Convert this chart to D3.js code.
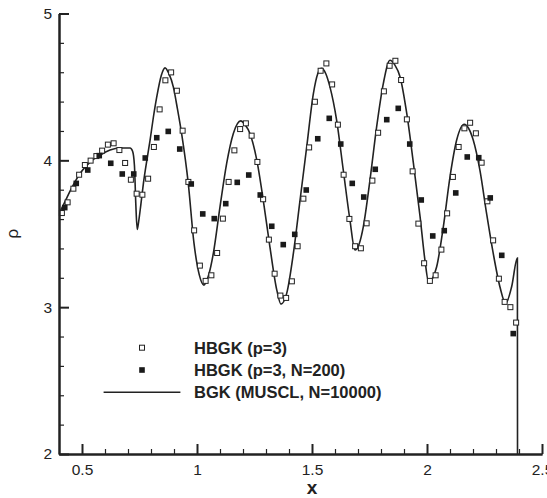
<!DOCTYPE html>
<html>
<head>
<meta charset="utf-8">
<script src="https://cdn.jsdelivr.net/npm/d3@7"></script>
<style>
  body { margin: 0; background: #fff; }
  svg text { font-family: "Liberation Sans", Arial, sans-serif; fill: #222; }
</style>
</head>
<body>
<svg id="chart"></svg>
<script>
// open squares: HBGK (p=3)
var hbgkP3 = [
  [0.4125,3.641],[0.4375,3.714],[0.4625,3.807],[0.4875,3.902],[0.5125,3.968],[0.5375,3.998],
  [0.5625,4.029],[0.5875,4.066],[0.6125,4.107],[0.6375,4.116],[0.6625,4.070],[0.6875,3.982],
  [0.7125,3.868],[0.7375,3.773],[0.7625,3.766],[0.7875,3.875],[0.8125,4.091],[0.8375,4.347],
  [0.8625,4.545],[0.8875,4.599],[0.9125,4.474],[0.9375,4.202],[0.9625,3.853],[0.9875,3.523],
  [1.0125,3.283],[1.0375,3.179],[1.0625,3.217],[1.0875,3.369],[1.1125,3.603],[1.1375,3.853],
  [1.1625,4.068],[1.1875,4.213],[1.2125,4.252],[1.2375,4.168],[1.2625,3.989],[1.2875,3.735],
  [1.3125,3.460],[1.3375,3.228],[1.3625,3.079],[1.3875,3.063],[1.4125,3.176],[1.4375,3.415],
  [1.4625,3.739],[1.4875,4.088],[1.5125,4.399],[1.5375,4.610],[1.5625,4.660],[1.5875,4.517],
  [1.6125,4.243],[1.6375,3.902],[1.6625,3.601],[1.6875,3.415],[1.7125,3.401],[1.7375,3.571],
  [1.7625,3.862],[1.7875,4.188],[1.8125,4.470],[1.8375,4.644],[1.8625,4.678],[1.8875,4.547],
  [1.9125,4.279],[1.9375,3.925],[1.9625,3.569],[1.9875,3.299],[2.0125,3.179],[2.0375,3.217],
  [2.0625,3.392],[2.0875,3.639],[2.1125,3.887],[2.1375,4.091],[2.1625,4.218],[2.1875,4.256],
  [2.2125,4.184],[2.2375,3.984],[2.2625,3.721],[2.2875,3.455],[2.3125,3.194],[2.3375,3.036],
  [2.3625,3.000],[2.3875,2.895]
];

// filled squares: HBGK (p=3, N=200)
var hbgkN200 = [
  [0.425,3.678],[0.475,3.843],[0.525,3.934],[0.575,4.032],[0.625,3.980],[0.675,3.907],
  [0.725,3.907],[0.775,4.016],[0.825,4.154],[0.875,4.197],[0.925,4.077],[0.975,3.839],
  [1.025,3.635],[1.075,3.603],[1.125,3.705],[1.175,3.850],[1.225,3.900],[1.275,3.764],
  [1.325,3.551],[1.375,3.426],[1.425,3.496],[1.475,3.798],[1.525,4.147],[1.575,4.286],
  [1.625,4.111],[1.675,3.843],[1.725,3.750],[1.775,3.939],[1.825,4.277],[1.875,4.354],
  [1.925,4.111],[1.975,3.730],[2.025,3.485],[2.075,3.521],[2.125,3.778],[2.175,4.023],
  [2.225,4.018],[2.275,3.744],[2.325,3.353],[2.375,2.820]
];

// line: BGK (MUSCL, N=10000)
var bgkLine = [
  [0.401,3.639],[0.425,3.715],[0.448,3.790],[0.470,3.855],[0.491,3.910],[0.535,3.988],
  [0.578,4.035],[0.622,4.070],[0.665,4.084],[0.709,4.084],[0.720,4.062],[0.728,3.965],
  [0.734,3.700],[0.740,3.530],[0.746,3.580],[0.756,3.700],[0.767,3.843],[0.784,4.020],
  [0.796,4.138],[0.810,4.290],[0.825,4.432],[0.845,4.580],[0.861,4.630],[0.878,4.590],
  [0.897,4.500],[0.915,4.350],[0.933,4.183],[0.962,3.843],[0.987,3.434],[1.010,3.220],
  [1.030,3.150],[1.050,3.215],[1.071,3.366],[1.100,3.683],[1.129,3.979],[1.158,4.183],
  [1.190,4.269],[1.210,4.240],[1.230,4.183],[1.260,4.001],[1.288,3.729],[1.317,3.411],
  [1.347,3.116],[1.365,3.021],[1.390,3.094],[1.419,3.366],[1.448,3.729],[1.477,4.092],
  [1.506,4.455],[1.525,4.590],[1.542,4.626],[1.560,4.590],[1.578,4.500],[1.607,4.274],
  [1.636,3.933],[1.665,3.593],[1.687,3.389],[1.705,3.430],[1.723,3.547],[1.752,3.865],
  [1.781,4.228],[1.810,4.523],[1.839,4.682],[1.860,4.650],[1.883,4.568],[1.912,4.319],
  [1.941,3.979],[1.970,3.615],[1.991,3.321],[2.007,3.172],[2.025,3.200],[2.042,3.275],
  [2.071,3.547],[2.100,3.888],[2.129,4.138],[2.162,4.246],[2.180,4.220],[2.201,4.138],
  [2.230,3.933],[2.259,3.639],[2.288,3.366],[2.317,3.139],[2.342,3.026],[2.368,3.139],
  [2.393,3.335],[2.394,1.000]
];

var xTickVals = [0.5, 1, 1.5, 2, 2.5];
var xTickLabels = ["0.5", "1", "1.5", "2", "2.5"];
var yTickVals = [2, 3, 4, 5];
var yTickLabels = ["2", "3", "4", "5"];
var legendLabels = ["HBGK (p=3)", "HBGK (p=3, N=200)", "BGK (MUSCL, N=10000)"];

var width = 547, height = 498;

var x = d3.scaleLinear().domain([0.4, 2.5]).range([59, 542]);
var y = d3.scaleLinear().domain([2, 5]).range([454, 13.5]);

var svg = d3.select("#chart")
  .attr("width", width)
  .attr("height", height);

svg.append("defs").append("clipPath")
  .attr("id", "plotClip")
  .append("rect")
  .attr("x", x(0.4)).attr("y", y(5))
  .attr("width", x(2.5) - x(0.4)).attr("height", y(2) - y(5));

// curve first, markers drawn on top
var line = d3.line()
  .x(function(d) { return x(d[0]); })
  .y(function(d) { return y(d[1]); })
  .curve(d3.curveMonotoneX);

svg.append("path")
  .datum(bgkLine)
  .attr("clip-path", "url(#plotClip)")
  .attr("d", line)
  .attr("fill", "none")
  .attr("stroke", "#222")
  .attr("stroke-width", 1.6);

var s1 = 5;
svg.selectAll("rect.open")
  .data(hbgkP3)
  .enter()
  .append("rect")
  .attr("class", "open")
  .attr("x", function(d) { return x(d[0]) - s1 / 2; })
  .attr("y", function(d) { return y(d[1]) - s1 / 2; })
  .attr("width", s1).attr("height", s1)
  .attr("fill", "#fff")
  .attr("stroke", "#222")
  .attr("stroke-width", 1);

var s2 = 5.6;
svg.selectAll("rect.filled")
  .data(hbgkN200)
  .enter()
  .append("rect")
  .attr("class", "filled")
  .attr("x", function(d) { return x(d[0]) - s2 / 2; })
  .attr("y", function(d) { return y(d[1]) - s2 / 2; })
  .attr("width", s2).attr("height", s2)
  .attr("fill", "#1a1a1a");

// axes, ticks point inward
var xAxis = svg.append("g")
  .attr("transform", "translate(0," + y(2) + ")")
  .call(d3.axisBottom(x).tickValues(xTickVals)
    .tickFormat(function(d, i) { return xTickLabels[i]; })
    .tickSizeInner(-10).tickSizeOuter(0).tickPadding(10));

var xMinor = svg.append("g")
  .attr("transform", "translate(0," + y(2) + ")")
  .call(d3.axisBottom(x).tickValues(d3.range(0.6, 2.45, 0.1).filter(function(v) { return Math.abs(v * 2 - Math.round(v * 2)) > 0.01; }))
    .tickFormat("").tickSizeInner(-5).tickSizeOuter(0));

var yAxis = svg.append("g")
  .attr("transform", "translate(" + x(0.4) + ",0)")
  .call(d3.axisLeft(y).tickValues(yTickVals)
    .tickFormat(function(d, i) { return yTickLabels[i]; })
    .tickSizeInner(-10).tickSizeOuter(0).tickPadding(7));

var yMinor = svg.append("g")
  .attr("transform", "translate(" + x(0.4) + ",0)")
  .call(d3.axisLeft(y).tickValues(d3.range(2.2, 4.9, 0.2).filter(function(v) { return Math.abs(v - Math.round(v)) > 0.01; }))
    .tickFormat("").tickSizeInner(-5).tickSizeOuter(0));

[xAxis, xMinor, yAxis, yMinor].forEach(function(g) {
  g.select(".domain").attr("stroke", "#222").attr("stroke-width", 2);
  g.selectAll(".tick line").attr("stroke", "#222");
  g.selectAll(".tick text").attr("font-size", 15.5).attr("fill", "#222")
    .attr("font-family", "'Liberation Sans', Arial, sans-serif");
});
xAxis.selectAll(".tick line").attr("stroke-width", 2);
yAxis.selectAll(".tick line").attr("stroke-width", 2);
xMinor.selectAll(".tick line").attr("stroke-width", 1.2);
yMinor.selectAll(".tick line").attr("stroke-width", 1.2);

// axis titles
svg.append("text")
  .attr("x", x(1.5))
  .attr("y", 494)
  .attr("text-anchor", "middle")
  .attr("font-size", 19)
  .attr("font-weight", "bold")
  .text("x");

svg.append("text")
  .attr("transform", "translate(18," + y(3.5) + ") rotate(-90)")
  .attr("text-anchor", "middle")
  .attr("font-size", 17)
  .text("ρ");

// legend
var legY = [347.7, 370, 392.3];
var leg = svg.append("g");
leg.append("rect")
  .attr("x", 142 - s1 / 2).attr("y", legY[0] - s1 / 2)
  .attr("width", s1).attr("height", s1)
  .attr("fill", "#fff").attr("stroke", "#222").attr("stroke-width", 1);
leg.append("rect")
  .attr("x", 142 - s2 / 2).attr("y", legY[1] - s2 / 2)
  .attr("width", s2).attr("height", s2)
  .attr("fill", "#1a1a1a");
leg.append("line")
  .attr("x1", 103.6).attr("x2", 180.4)
  .attr("y1", legY[2]).attr("y2", legY[2])
  .attr("stroke", "#222").attr("stroke-width", 1.6);
leg.selectAll("text")
  .data(legendLabels)
  .enter()
  .append("text")
  .attr("x", 194)
  .attr("y", function(d, i) { return legY[i]; })
  .attr("dy", "0.36em")
  .attr("font-size", 16.5)
  .attr("font-weight", "bold")
  .text(function(d) { return d; });
</script>
</body>
</html>
